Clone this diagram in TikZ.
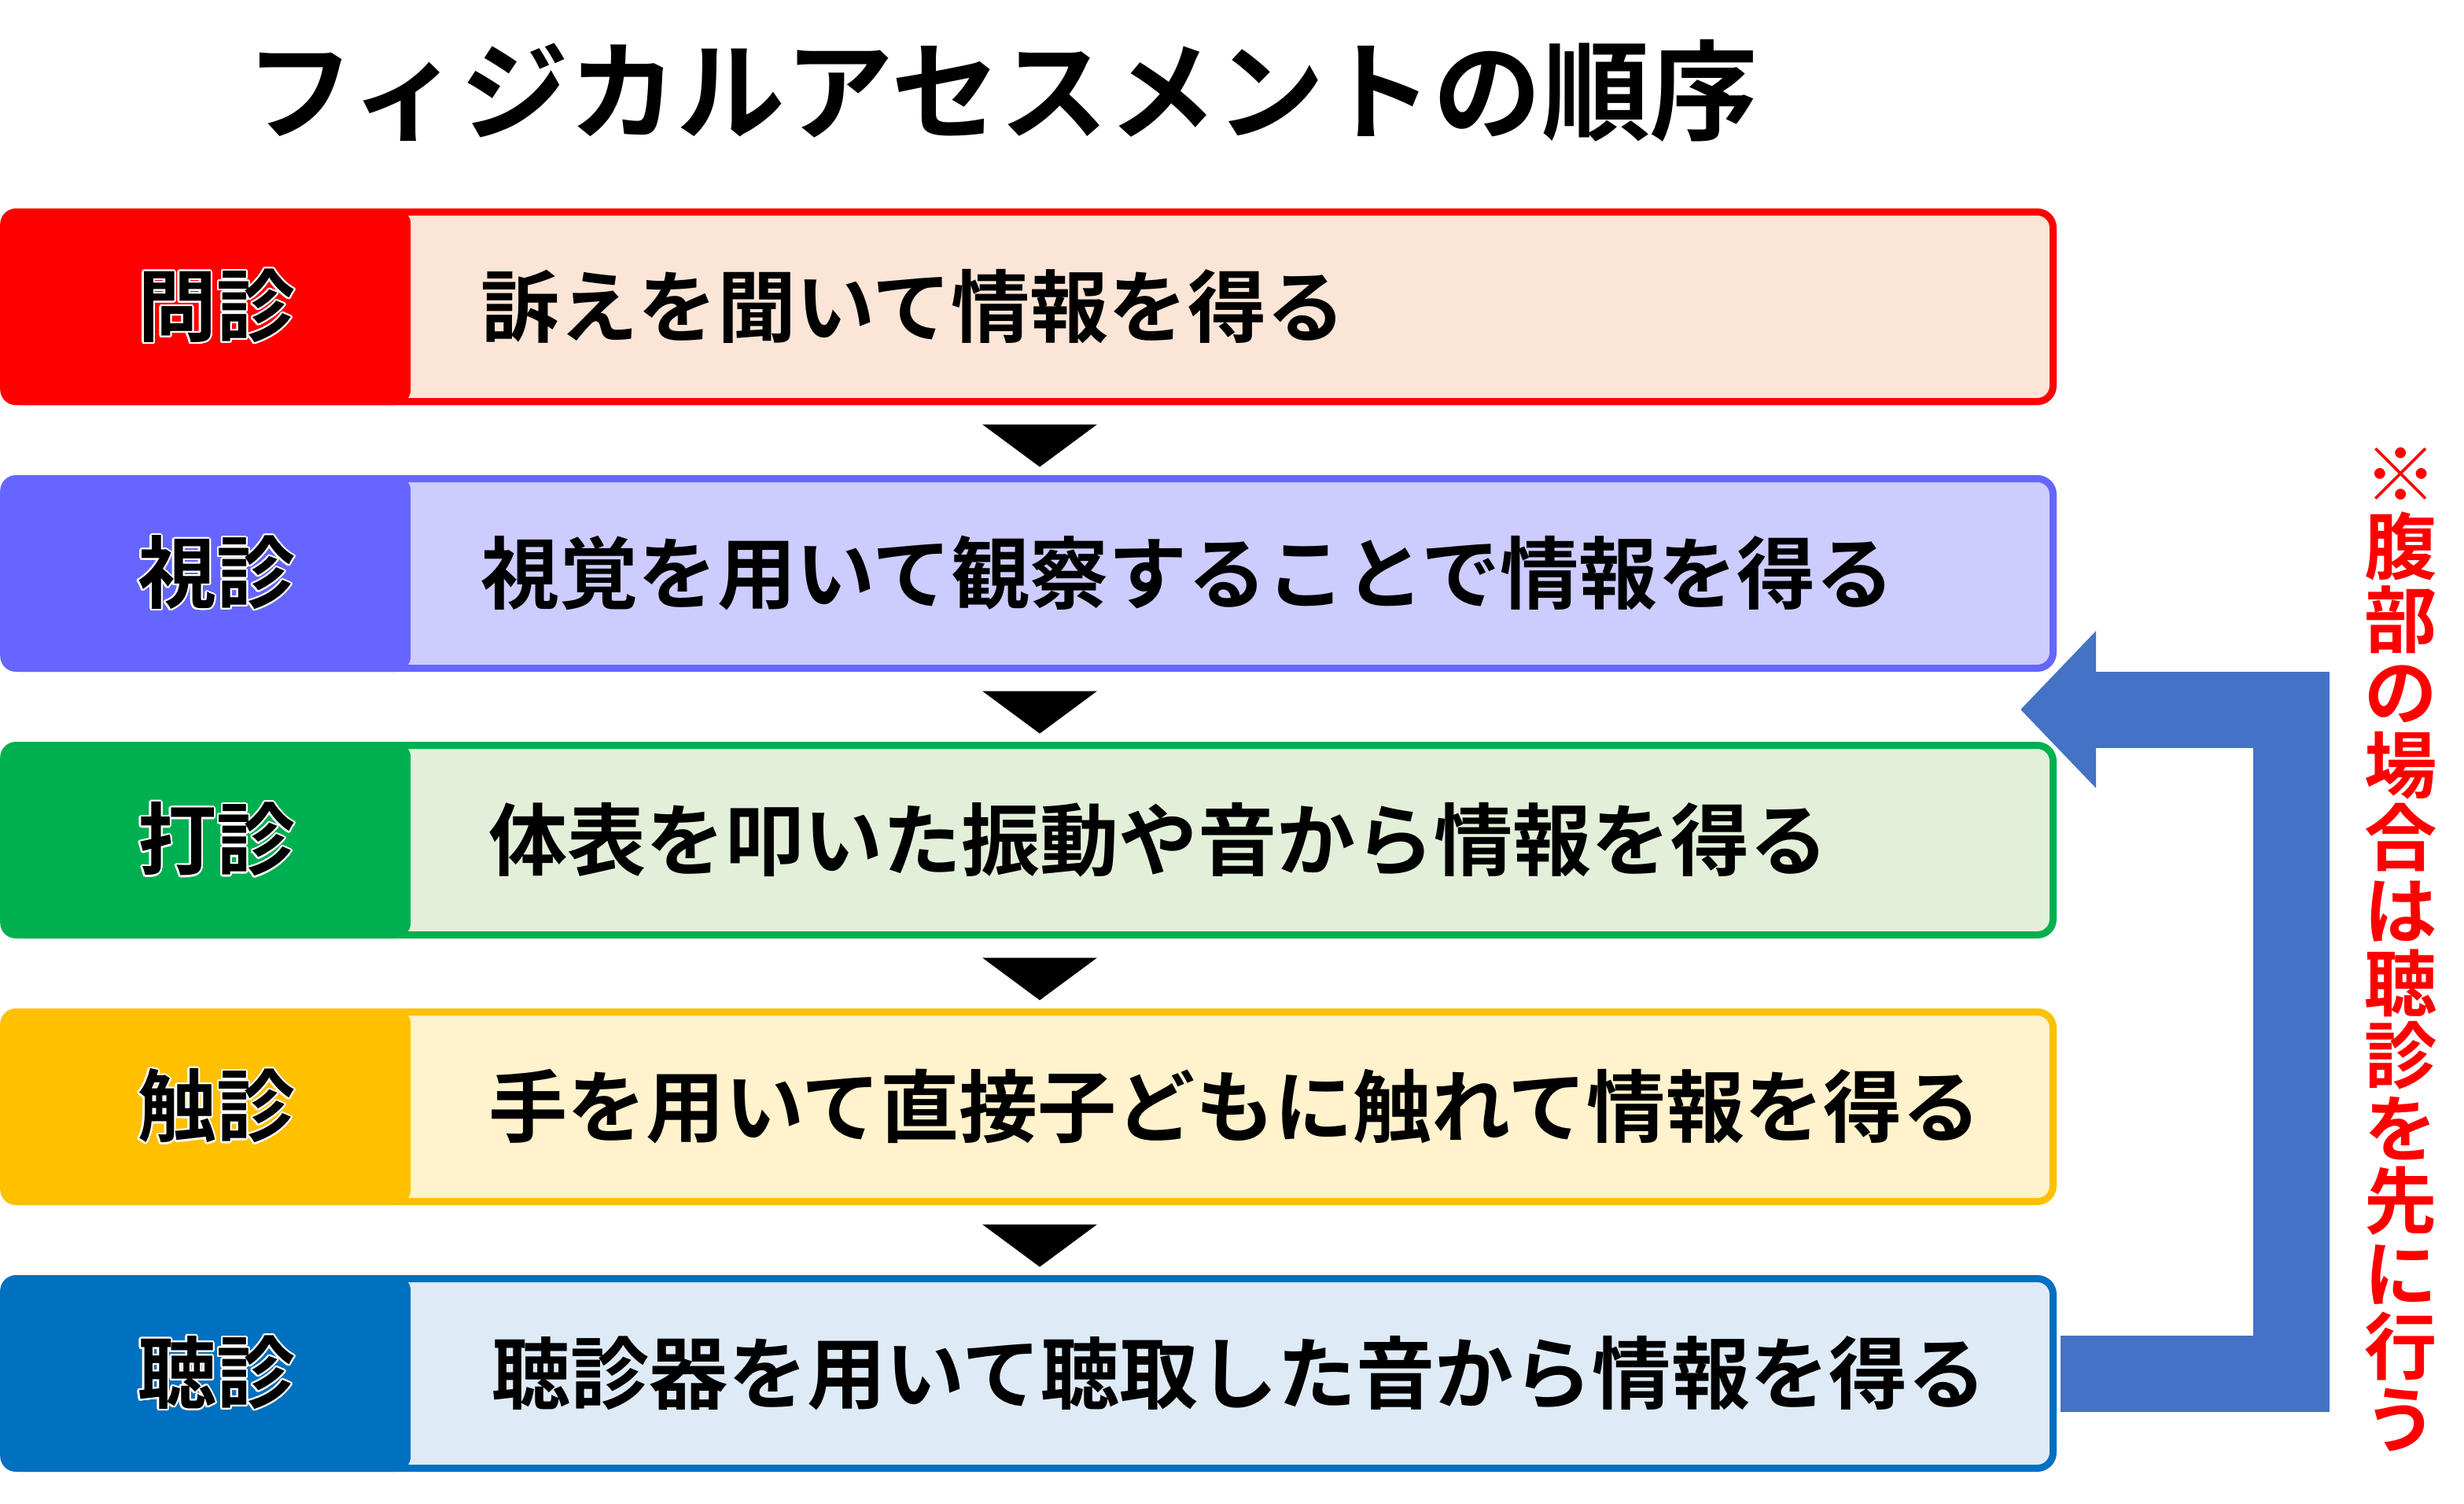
\documentclass[tikz,border=0pt]{standalone}
\usepackage{fontspec}
\usepackage{contour}
\usetikzlibrary{arrows.meta,calc}
\setmainfont{Noto Sans CJK JP}[BoldFont={* Bold}]
\definecolor{sinred}{RGB}{255,0,0}
\definecolor{sinredpale}{RGB}{251,229,214}
\definecolor{sinviolet}{RGB}{102,102,255}
\definecolor{sinvioletpale}{RGB}{204,204,255}
\definecolor{singreen}{RGB}{0,176,80}
\definecolor{singreenpale}{RGB}{226,240,217}
\definecolor{sinyellow}{RGB}{255,192,0}
\definecolor{sinyellowpale}{RGB}{255,242,204}
\definecolor{sinblue}{RGB}{0,112,192}
\definecolor{sinbluepale}{RGB}{222,235,247}
\definecolor{backblue}{RGB}{68,114,196}
\newcommand\titlefont{\fontsize{39.2pt}{40pt}\selectfont\bfseries}
\newcommand\descfont{\fontsize{28.5pt}{30pt}\selectfont\bfseries}
\newcommand\notefont{\fontsize{26.3pt}{26.3pt}\selectfont\bfseries}
\contourlength{0.6pt}
\contournumber{24}

\begin{document}
\begin{tikzpicture}[
    rowbox/.style={draw, line width=0.09cm, rounded corners=0.2cm, minimum width=26.02cm, minimum height=2.41cm, inner sep=0pt},
    tagbox/.style={rounded corners=0.2cm, minimum width=5.22cm, minimum height=2.5cm, inner sep=0pt, font=\descfont},
    desc/.style={anchor=west, inner sep=0pt, font=\descfont},
    loopback/.style={draw=backblue, line width=0.97cm, line join=miter, -{Triangle[length=0.96cm,width=1.94cm]}},
  ]
  \fill[white] (0,0) rectangle (31.33,-19.11);
  \useasboundingbox (0,0) rectangle (31.33,-19.11);

  \node[font=\titlefont, inner sep=0pt] (title) at (12.74,-1.15) {フィジカルアセスメントの順序};

  % steps
  \foreach \i/\tag/\txt/\edge/\gap in {1/問診/訴えを聞いて情報を得る/sinred/0.88,
      2/視診/視覚を用いて観察することで情報を得る/sinviolet/0.88,
      3/打診/体表を叩いた振動や音から情報を得る/singreen/0.98,
      4/触診/手を用いて直接子どもに触れて情報を得る/sinyellow/0.98,
      5/聴診/聴診器を用いて聴取した音から情報を得る/sinblue/1.02} {
    \pgfmathsetmacro{\rowy}{-3.90-3.39*(\i-1)}
    \node[rowbox, draw=\edge, fill=\edge pale] (box\i) at (13.095,\rowy) {};
    \node[tagbox, fill=\edge, anchor=west] (tag\i) at ([xshift=-0.045cm]box\i.west) {\hspace*{0.28cm}\contour{white}{\tag}};
    \node[desc] (txt\i) at ([xshift=\gap cm]tag\i.east) {\txt};
  }

  % arrows between steps
  \foreach \i in {1,...,4} {
    \fill[black] ($(box\i.south)+(-0.605,-0.245)$) -- ++(1.46,0) -- ++(-0.73,-0.54) -- cycle;
  }

  % abdomen: auscultation first
  \coordinate (ret) at (25.69,-9.02);
  \draw[loopback] ([xshift=0.045cm]box5.east) -- ++(2.94,0) |- (ret);

  \node[font=\notefont, text=sinred, align=center, inner sep=0pt] (note) at (30.53,-12.07)
    {※\\腹\\部\\の\\場\\合\\は\\聴\\診\\を\\先\\に\\行\\う};
\end{tikzpicture}
\end{document}
